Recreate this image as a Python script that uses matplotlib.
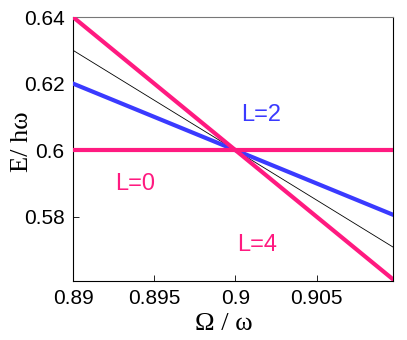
import matplotlib
matplotlib.use("Agg")
import matplotlib.pyplot as plt

# endpoints of each level line (Omega/omega, E/hbar omega)
omega = [0.89, 0.9097]
e_L0 = [0.60, 0.60]
e_L2 = [0.62, 0.5806]
e_L4 = [0.64, 0.5612]
e_mid = [0.63, 0.5709]

PINK = "#ff1a80"
BLUE = "#3a3aff"

fig = plt.figure(figsize=(4.07, 3.40), dpi=100)
ax = fig.add_axes([73/407, 1 - 281/340, 320/407, 264/340])

ax.plot(omega, e_mid, color="black", lw=0.6, zorder=2)
ax.plot(omega, e_L2, color=BLUE, lw=3.0, zorder=3)
ax.plot(omega, e_L0, color=PINK, lw=3.0, zorder=4)
ax.plot(omega, e_L4, color=PINK, lw=3.0, zorder=4)

ax.set_xlim(0.89, 0.9097)
ax.set_ylim(0.5607, 0.64)
ax.set_xticks([0.89, 0.895, 0.9, 0.905])
ax.set_xticklabels(["0.89", "0.895", "0.9", "0.905"])
ax.set_yticks([0.58, 0.6, 0.62, 0.64])
ax.set_yticklabels(["0.58", "0.6", "0.62", "0.64"])
ax.tick_params(direction="in", length=4, width=0.6, labelsize=15, pad=6,
               top=False, right=False)
for lab in ax.get_xticklabels() + ax.get_yticklabels():
    lab.set_family("Liberation Sans")
for s in ("left", "bottom", "right"):
    ax.spines[s].set_color("black")
ax.spines["top"].set_color("#777777")
for s in ax.spines.values():
    s.set_linewidth(0.8)

ax.text(0.9016, 0.6107, "L=2", color=BLUE, fontsize=17, family="Liberation Sans",
        ha="center", va="center")
ax.text(0.8938, 0.5898, "L=0", color=PINK, fontsize=17, family="Liberation Sans",
        ha="center", va="center")
ax.text(0.90135, 0.5715, "L=4", color=PINK, fontsize=17, family="Liberation Sans",
        ha="center", va="center")

xl = ax.set_xlabel("\u03a9 / \u03c9", family="Liberation Serif", fontsize=19)
yl = ax.set_ylabel("E/ h\u03c9", family="Liberation Serif", fontsize=19)
ax.xaxis.set_label_coords(0.472, -0.122)
ax.yaxis.set_label_coords(-0.159, 0.527)
yl.set_va("center")

fig.savefig("out.png", dpi=100)
